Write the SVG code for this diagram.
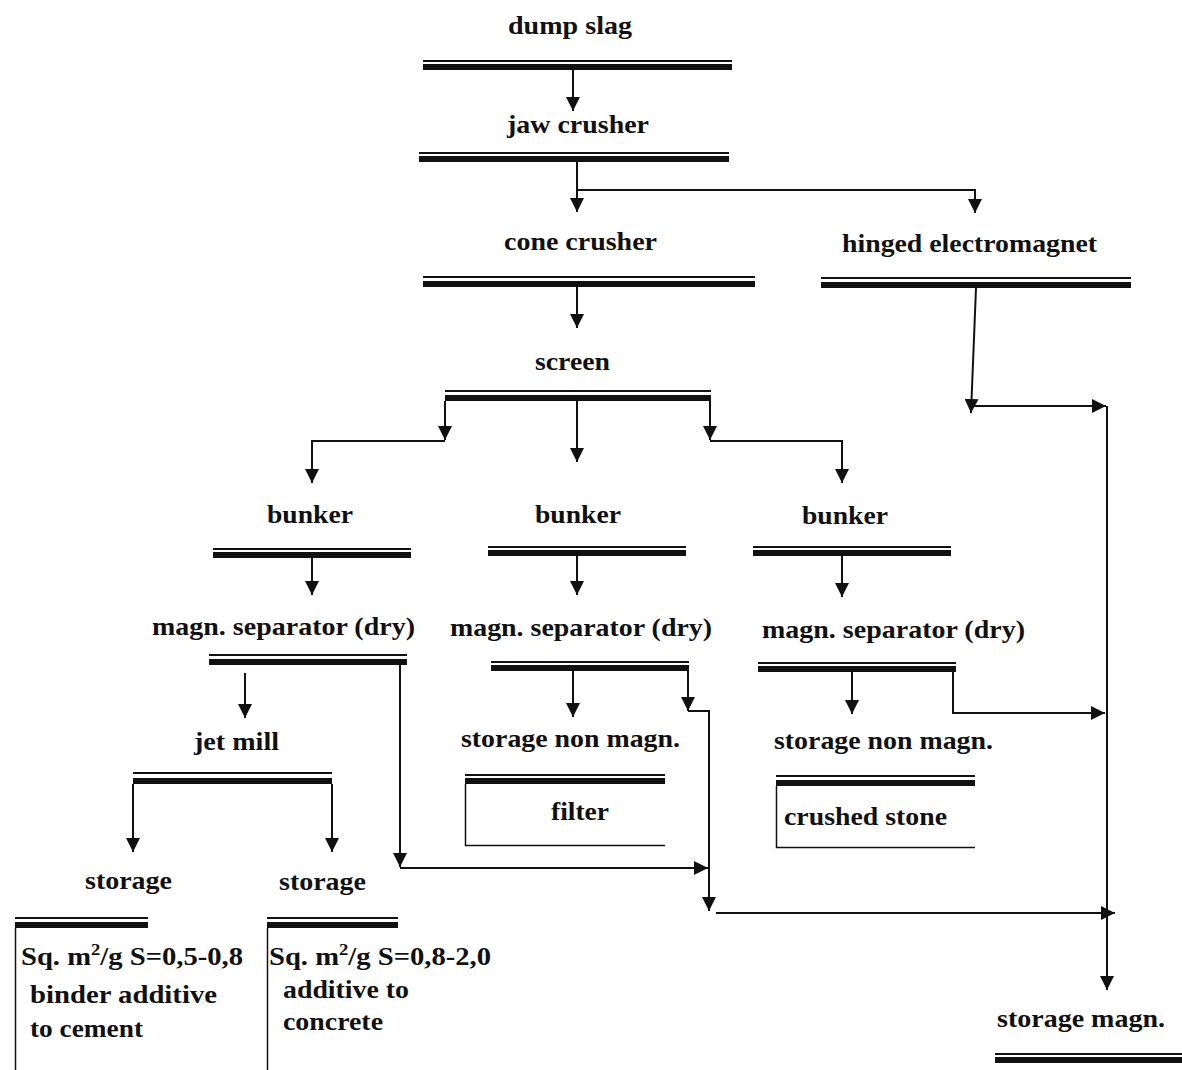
<svg xmlns="http://www.w3.org/2000/svg" width="1182" height="1070" viewBox="0 0 1182 1070">
<defs>
<style>
.t{font-family:"Liberation Serif","Times New Roman",serif;font-weight:bold;font-size:25px;fill:#111;}
.s{font-size:26px;}
.thin{fill:#111;}
.thick{fill:#111;}
.c{fill:none;stroke:#111;stroke-width:2;}
.a{marker-end:url(#ah);}
.box{fill:none;stroke:#111;stroke-width:1.5;}
</style>
<marker id="ah" markerUnits="userSpaceOnUse" markerWidth="14" markerHeight="14" viewBox="0 0 14 14" refX="14" refY="7" orient="auto">
<path d="M0,0 L14,7 L0,14 Z" fill="#111"/>
</marker>
</defs>
<rect width="1182" height="1070" fill="#fff"/>

<g id="dump-slag">
<text class="t" x="508" y="34" textLength="124" lengthAdjust="spacingAndGlyphs">dump slag</text>
<rect class="thin" x="423" y="60" width="309" height="2"/>
<rect class="thick" x="423" y="64" width="309" height="6"/>
</g>
<g id="jaw-crusher">
<text class="t" x="507" y="133" textLength="142" lengthAdjust="spacingAndGlyphs">jaw crusher</text>
<rect class="thin" x="419" y="152" width="310" height="2"/>
<rect class="thick" x="419" y="156" width="310" height="6"/>
</g>
<g id="cone-crusher">
<text class="t" x="504" y="250" textLength="153" lengthAdjust="spacingAndGlyphs">cone crusher</text>
<rect class="thin" x="423" y="276" width="332" height="2"/>
<rect class="thick" x="423" y="281" width="332" height="6"/>
</g>
<g id="hinged-electromagnet">
<text class="t" x="842" y="252" textLength="255" lengthAdjust="spacingAndGlyphs">hinged electromagnet</text>
<rect class="thin" x="821" y="277" width="310" height="2"/>
<rect class="thick" x="821" y="282" width="310" height="6"/>
</g>
<g id="screen">
<text class="t" x="535" y="370" textLength="75" lengthAdjust="spacingAndGlyphs">screen</text>
<rect class="thin" x="445" y="390" width="266" height="2"/>
<rect class="thick" x="445" y="395" width="266" height="6"/>
</g>
<g id="bunker-1">
<text class="t" x="267" y="523" textLength="86" lengthAdjust="spacingAndGlyphs">bunker</text>
<rect class="thin" x="213" y="548" width="198" height="2"/>
<rect class="thick" x="213" y="552" width="198" height="6"/>
</g>
<g id="bunker-2">
<text class="t" x="535" y="523" textLength="86" lengthAdjust="spacingAndGlyphs">bunker</text>
<rect class="thin" x="488" y="546" width="198" height="2"/>
<rect class="thick" x="488" y="550" width="198" height="6"/>
</g>
<g id="bunker-3">
<text class="t" x="802" y="524" textLength="86" lengthAdjust="spacingAndGlyphs">bunker</text>
<rect class="thin" x="753" y="546" width="198" height="2"/>
<rect class="thick" x="753" y="550" width="198" height="6"/>
</g>
<g id="magn-separator-1">
<text class="t" x="152" y="635" textLength="263" lengthAdjust="spacingAndGlyphs">magn. separator (dry)</text>
<rect class="thin" x="209" y="654" width="198" height="2"/>
<rect class="thick" x="209" y="659" width="198" height="6"/>
</g>
<g id="magn-separator-2">
<text class="t" x="450" y="636" textLength="262" lengthAdjust="spacingAndGlyphs">magn. separator (dry)</text>
<rect class="thin" x="491" y="661" width="198" height="2"/>
<rect class="thick" x="491" y="665" width="198" height="6"/>
</g>
<g id="magn-separator-3">
<text class="t" x="762" y="638" textLength="263" lengthAdjust="spacingAndGlyphs">magn. separator (dry)</text>
<rect class="thin" x="758" y="662" width="198" height="2"/>
<rect class="thick" x="758" y="666" width="198" height="6"/>
</g>
<g id="jet-mill">
<text class="t" x="194" y="750" textLength="85" lengthAdjust="spacingAndGlyphs">jet mill</text>
<rect class="thin" x="133" y="772" width="199" height="2"/>
<rect class="thick" x="133" y="778" width="199" height="6"/>
</g>
<g id="storage-non-magn-1">
<text class="t" x="461" y="747" textLength="219" lengthAdjust="spacingAndGlyphs">storage non magn.</text>
<rect class="thin" x="465" y="774" width="200" height="2"/>
<rect class="thick" x="465" y="778" width="200" height="6"/>
<path class="box" d="M465.5,784 V845.5 H665"/>
<text class="t" x="551" y="820" textLength="58" lengthAdjust="spacingAndGlyphs">filter</text>
</g>
<g id="storage-non-magn-2">
<text class="t" x="774" y="749" textLength="219" lengthAdjust="spacingAndGlyphs">storage non magn.</text>
<rect class="thin" x="776" y="775" width="199" height="2"/>
<rect class="thick" x="776" y="780" width="199" height="6"/>
<path class="box" d="M776.5,786 V847.5 H975"/>
<text class="t" x="784" y="825" textLength="163" lengthAdjust="spacingAndGlyphs">crushed stone</text>
</g>
<g id="storage-1">
<text class="t" x="85" y="889" textLength="87" lengthAdjust="spacingAndGlyphs">storage</text>
<rect class="thin" x="15" y="917" width="133" height="2"/>
<rect class="thick" x="15" y="922" width="133" height="6"/>
<path class="box" d="M15.5,928 V1070"/>
<text class="t s" x="21" y="965" textLength="222" lengthAdjust="spacingAndGlyphs">Sq. m<tspan dy="-10" font-size="17">2</tspan><tspan dy="10">/g  S=0,5-0,8</tspan></text>
<text class="t s" x="30" y="1003" textLength="187" lengthAdjust="spacingAndGlyphs">binder  additive</text>
<text class="t s" x="30" y="1037" textLength="113" lengthAdjust="spacingAndGlyphs">to cement</text>
</g>
<g id="storage-2">
<text class="t" x="279" y="890" textLength="87" lengthAdjust="spacingAndGlyphs">storage</text>
<rect class="thin" x="267" y="917" width="131" height="2"/>
<rect class="thick" x="267" y="922" width="131" height="6"/>
<path class="box" d="M267.5,928 V1070"/>
<text class="t s" x="269" y="965" textLength="222" lengthAdjust="spacingAndGlyphs">Sq. m<tspan dy="-10" font-size="17">2</tspan><tspan dy="10">/g  S=0,8-2,0</tspan></text>
<text class="t s" x="283" y="998" textLength="126" lengthAdjust="spacingAndGlyphs">additive to</text>
<text class="t s" x="283" y="1030" textLength="100" lengthAdjust="spacingAndGlyphs">concrete</text>
</g>
<g id="storage-magn">
<text class="t" x="997" y="1027" textLength="168" lengthAdjust="spacingAndGlyphs">storage  magn.</text>
<rect class="thin" x="995" y="1053" width="187" height="2"/>
<rect class="thick" x="995" y="1057" width="187" height="6"/>
</g>

<g id="connectors">
<path class="c a" d="M573,70 V111"/>
<path class="c a" d="M577,162 V212"/>
<path class="c a" d="M577,190 H975 V213"/>
<path class="c a" d="M577,287 V328"/>
<path class="c a" d="M976,288 L971,413"/>
<path class="c a" d="M971,406 H1106"/>
<path class="c a" d="M1107,406 V990"/>
<path class="c a" d="M445,401 V440"/>
<path class="c a" d="M445,441 H312 V483"/>
<path class="c a" d="M577,401 V462"/>
<path class="c a" d="M710,401 V440"/>
<path class="c a" d="M710,441 H842 V483"/>
<path class="c a" d="M312,558 V595"/>
<path class="c a" d="M577,556 V595"/>
<path class="c a" d="M842,556 V597"/>
<path class="c a" d="M245,673 V718"/>
<path class="c a" d="M400,665 V867"/>
<path class="c a" d="M400,868 H708"/>
<path class="c a" d="M133,784 V852"/>
<path class="c a" d="M332,784 V852"/>
<path class="c a" d="M573,671 V717"/>
<path class="c a" d="M688,671 V711"/>
<path class="c a" d="M688,711 H709 V911"/>
<path class="c a" d="M716,913 H1115"/>
<path class="c a" d="M852,672 V714"/>
<path class="c a" d="M953,672 V713 H1105"/>
</g>
</svg>
